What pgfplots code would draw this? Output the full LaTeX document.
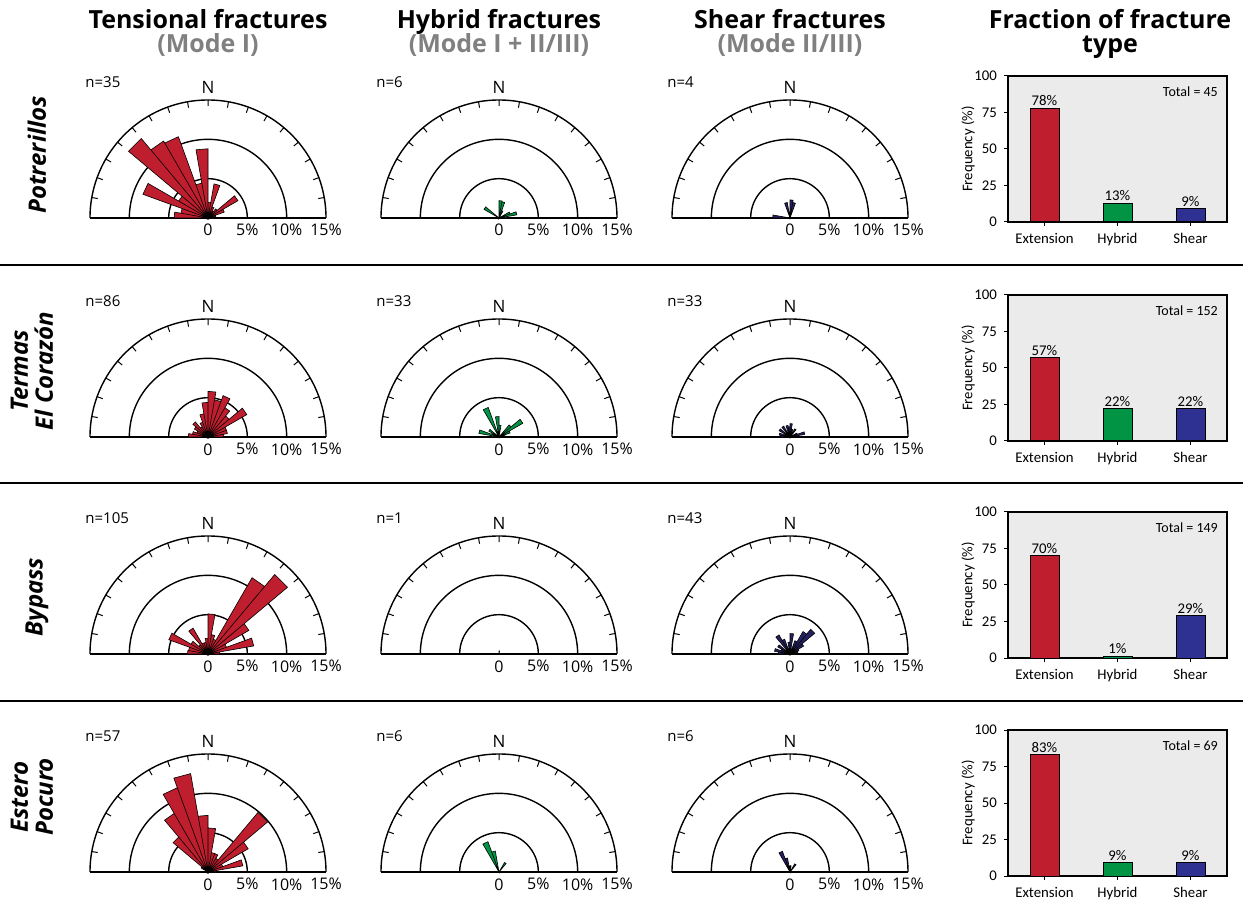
\documentclass[border=0pt]{standalone}
\usepackage{pgfplots}
\pgfplotsset{compat=1.18}
\usepgfplotslibrary{polar}
\usepackage{fontspec}
\setmainfont{Open Sans}
\newfontfamily\barfont{Carlito}
\definecolor{cred}{RGB}{190,30,45}
\definecolor{cgreen}{RGB}{0,148,68}
\definecolor{cblue}{RGB}{46,49,146}
\definecolor{rblue}{RGB}{38,34,98}
\definecolor{bgray}{RGB}{235,235,235}
\definecolor{tgray}{RGB}{128,128,128}
\newcommand\pctfont{\fontsize{8}{9}\selectfont}
\newcommand\bfnt{\barfont\fontsize{7.4}{8}\selectfont}
\pgfplotsset{
  rose/.style={
    anchor=origin, scale only axis, width=118pt, height=118pt,
    xmin=0, xmax=180, ymin=0, ymax=15,
    xtick={10,20,...,170},
    xticklabels={,,,,,,,,N,,,,,,,,},
    xticklabel style={font=\fontsize{8.5}{9}\selectfont, inner sep=1pt, yshift=5pt},
    ytick={5,10}, yticklabels={},
    ymajorgrids, xmajorgrids=false,
    major grid style={black, line width=0.7pt},
    axis line style={black, line width=0.7pt},
    tick align=outside, major tick length=3pt,
    xtick style={black, line width=0.5pt},
    ytick style={draw=none},
    clip=false,
  },
  fbar/.style={
    anchor=south west, scale only axis, width=109.5pt, height=73pt,
    xmin=-0.5, xmax=2.5, ymin=0, ymax=100,
    xtick={0,1,2}, xticklabels={Extension,Hybrid,Shear},
    ytick={0,25,50,75,100},
    tick align=outside, major tick length=2pt,
    xtick pos=bottom, ytick pos=left,
    tick style={black, line width=0.5pt},
    axis background/.style={fill=bgray},
    axis line style={black, line width=0.6pt},
    tick label style={font=\bfnt},
    /pgf/number format/assume math mode=true,
    ylabel={Frequency (\%)},
    ylabel style={font=\bfnt},
    ylabel shift=-7pt,
    point meta=y,
    every axis plot/.append style={ybar, bar width=14.5pt, bar shift=0pt, draw=black, line width=0.5pt},
    nodes near coords={\pgfmathprintnumber{\pgfplotspointmeta}\%},
    nodes near coords style={font=\bfnt, inner sep=1pt, text=black},
    clip=false,
  }
}
\newcommand\rose[4]{%
  \begin{polaraxis}[rose, at={(#1,#2)}]
  \addplot[fill=#3, draw=black, line width=0.3pt] coordinates {#4};
  \node[anchor=north, inner sep=0pt, yshift=-3pt, font=\pctfont] at (axis cs:0,0) {0};
  \node[anchor=north, inner sep=0pt, yshift=-3pt, font=\pctfont] at (axis cs:0,5) {5\%};
  \node[anchor=north, inner sep=0pt, yshift=-3pt, font=\pctfont] at (axis cs:0,10) {10\%};
  \node[anchor=north, inner sep=0pt, yshift=-3pt, font=\pctfont] at (axis cs:0,15) {15\%};
  \end{polaraxis}}
\newcommand\fbar[5]{%
  \begin{axis}[fbar, at={(504pt,#1)}]
  \addplot[fill=cred] coordinates {(0,#2)};
  \addplot[fill=cgreen] coordinates {(1,#3)};
  \addplot[fill=cblue] coordinates {(2,#4)};
  \node[anchor=north east, inner sep=0pt, font=\barfont\fontsize{7}{8}\selectfont] at (rel axis cs:0.96,0.93) {Total = #5};
  \end{axis}}
\begin{document}
\begin{tikzpicture}
\useasboundingbox (0,0) rectangle (621.5pt,458.5pt);
% column titles
\node[anchor=base, font=\fontsize{12.5}{14}\selectfont\bfseries] at (104pt,444pt) {Tensional fractures};
\node[anchor=base, font=\fontsize{12.5}{14}\selectfont\bfseries, text=tgray] at (104pt,432pt) {(Mode I)};
\node[anchor=base, font=\fontsize{12.5}{14}\selectfont\bfseries] at (249.5pt,444pt) {Hybrid fractures};
\node[anchor=base, font=\fontsize{12.5}{14}\selectfont\bfseries, text=tgray] at (249.5pt,432pt) {(Mode I + II/III)};
\node[anchor=base, font=\fontsize{12.5}{14}\selectfont\bfseries] at (395pt,444pt) {Shear fractures};
\node[anchor=base, font=\fontsize{12.5}{14}\selectfont\bfseries, text=tgray] at (395pt,432pt) {(Mode II/III)};
\node[anchor=base, font=\fontsize{12.5}{14}\selectfont\bfseries] at (555pt,444pt) {Fraction of fracture};
\node[anchor=base, font=\fontsize{12.5}{14}\selectfont\bfseries] at (555pt,432pt) {type};
% row labels
\node[rotate=90, font=\fontsize{12}{13}\selectfont\bfseries\itshape] at (18.5pt,381pt) {Potrerillos};
\node[rotate=90, align=center, font=\fontsize{12}{12.5}\selectfont\bfseries\itshape] at (16pt,273pt) {Termas\\El Corazón};
\node[rotate=90, font=\fontsize{12}{13}\selectfont\bfseries\itshape] at (18.5pt,160pt) {Bypass};
\node[rotate=90, align=center, font=\fontsize{12}{12.5}\selectfont\bfseries\itshape] at (16pt,60pt) {Estero\\Pocuro};
% separators
\draw[line width=1pt] (0pt,326pt) -- (621.5pt,326pt);
\draw[line width=1pt] (0pt,217pt) -- (621.5pt,217pt);
\draw[line width=1pt] (0pt,108pt) -- (621.5pt,108pt);
% n labels
\foreach \x/\y/\t in {42.5/417.5/35, 188/417.5/6, 333.5/417.5/4,
                      42.5/308/86, 188/308/33, 333.5/308/33,
                      42.5/199.5/105, 188/199.5/1, 333.5/199.5/43,
                      42.5/90.5/57, 188/90.5/6, 333.5/90.5/6}
  \node[anchor=west, inner sep=0pt, font=\fontsize{7.5}{9}\selectfont] at (\x pt,\y pt) {n=\t};
% ---- Row 1: Potrerillos
\rose{104pt}{349.5pt}{cred}{(0,0) (170,4.3) (180,4.3) (0,0) (160,3.5) (170,3.5) (0,0) (150,8.8) (160,8.8) (0,0) (140,4.3) (150,4.3) (0,0) (130,13.2) (140,13.2) (0,0) (120,11.3) (130,11.3) (0,0) (110,11.0) (120,11.0) (0,0) (100,4.5) (110,4.5) (0,0) (90,8.8) (100,8.8) (0,0) (80,2.0) (90,2.0) (0,0) (70,4.4) (80,4.4) (0,0) (60,1.5) (70,1.5) (0,0) (50,1.0) (60,1.0) (0,0) (40,1.5) (50,1.5) (0,0) (30,4.4) (40,4.4) (0,0) (20,2.2) (30,2.2) (0,0) (10,1.0) (20,1.0) (0,0) (0,0.5) (10,0.5) (0,0)}
\rose{249.5pt}{349.5pt}{cgreen}{(0,0) (140,2.2) (150,2.2) (0,0) (80,2.2) (90,2.2) (0,0) (70,2.1) (80,2.1) (0,0) (60,1.0) (70,1.0) (0,0) (20,1.5) (30,1.5) (0,0) (10,2.3) (20,2.3) (0,0) (0,1.0) (10,1.0) (0,0)}
\rose{395pt}{349.5pt}{rblue}{(0,0) (170,2.2) (180,2.2) (0,0) (100,2.0) (110,2.0) (0,0) (80,2.3) (90,2.3) (0,0) (70,2.0) (80,2.0) (0,0)}
\fbar{347.5pt}{78}{13}{9}{45}
% ---- Row 2: Termas El Corazon
\rose{104pt}{240pt}{cred}{(0,0) (170,2.5) (180,2.5) (0,0) (160,2.0) (170,2.0) (0,0) (150,1.5) (160,1.5) (0,0) (140,2.0) (150,2.0) (0,0) (130,2.5) (140,2.5) (0,0) (120,1.5) (130,1.5) (0,0) (110,2.0) (120,2.0) (0,0) (100,3.0) (110,3.0) (0,0) (90,4.4) (100,4.4) (0,0) (80,5.8) (90,5.8) (0,0) (70,4.8) (80,4.8) (0,0) (60,5.6) (70,5.6) (0,0) (50,4.3) (60,4.3) (0,0) (40,3.5) (50,3.5) (0,0) (30,5.7) (40,5.7) (0,0) (20,2.5) (30,2.5) (0,0) (10,2.5) (20,2.5) (0,0) (0,2.0) (10,2.0) (0,0)}
\rose{249.5pt}{240pt}{cgreen}{(0,0) (170,1.0) (180,1.0) (0,0) (160,2.6) (170,2.6) (0,0) (150,1.0) (160,1.0) (0,0) (140,1.5) (150,1.5) (0,0) (110,4.0) (120,4.0) (0,0) (90,2.6) (100,2.6) (0,0) (80,1.5) (90,1.5) (0,0) (40,2.0) (50,2.0) (0,0) (30,3.5) (40,3.5) (0,0) (20,1.5) (30,1.5) (0,0) (0,0.8) (10,0.8) (0,0)}
\rose{395pt}{240pt}{rblue}{(0,0) (170,1.2) (180,1.2) (0,0) (160,1.4) (170,1.4) (0,0) (140,1.6) (150,1.6) (0,0) (120,1.6) (130,1.6) (0,0) (100,1.5) (110,1.5) (0,0) (90,1.3) (100,1.3) (0,0) (80,1.7) (90,1.7) (0,0) (70,1.0) (80,1.0) (0,0) (50,1.2) (60,1.2) (0,0) (20,1.0) (30,1.0) (0,0) (10,1.9) (20,1.9) (0,0)}
\fbar{238pt}{57}{22}{22}{152}
% ---- Row 3: Bypass
\rose{104pt}{131.5pt}{cred}{(0,0) (170,2.6) (180,2.6) (0,0) (160,2.5) (170,2.5) (0,0) (150,5.3) (160,5.3) (0,0) (140,2.5) (150,2.5) (0,0) (130,1.5) (140,1.5) (0,0) (120,3.8) (130,3.8) (0,0) (110,1.5) (120,1.5) (0,0) (100,1.5) (110,1.5) (0,0) (90,2.0) (100,2.0) (0,0) (80,5.1) (90,5.1) (0,0) (70,2.5) (80,2.5) (0,0) (60,2.0) (70,2.0) (0,0) (50,11.2) (60,11.2) (0,0) (40,13.2) (50,13.2) (0,0) (30,6.0) (40,6.0) (0,0) (20,2.5) (30,2.5) (0,0) (10,5.9) (20,5.9) (0,0) (0,1.5) (10,1.5) (0,0)}
\rose{249.5pt}{131.5pt}{cgreen}{(0,0) (80,0.4) (90,0.4) (0,0)}
\rose{395pt}{131.5pt}{rblue}{(0,0) (170,1.5) (180,1.5) (0,0) (160,2.0) (170,2.0) (0,0) (150,1.2) (160,1.2) (0,0) (140,1.8) (150,1.8) (0,0) (120,2.8) (130,2.8) (0,0) (110,2.0) (120,2.0) (0,0) (90,1.5) (100,1.5) (0,0) (80,2.6) (90,2.6) (0,0) (60,1.8) (70,1.8) (0,0) (50,3.3) (60,3.3) (0,0) (40,4.1) (50,4.1) (0,0) (30,2.0) (40,2.0) (0,0) (20,1.2) (30,1.2) (0,0) (10,1.0) (20,1.0) (0,0)}
\fbar{129.5pt}{70}{1}{29}{149}
% ---- Row 4: Estero Pocuro
\rose{104pt}{22.5pt}{cred}{(0,0) (140,1.0) (150,1.0) (0,0) (130,5.8) (140,5.8) (0,0) (120,8.6) (130,8.6) (0,0) (110,11.4) (120,11.4) (0,0) (100,12.7) (110,12.7) (0,0) (90,7.2) (100,7.2) (0,0) (80,5.6) (90,5.6) (0,0) (70,2.5) (80,2.5) (0,0) (60,2.5) (70,2.5) (0,0) (50,2.0) (60,2.0) (0,0) (40,9.9) (50,9.9) (0,0) (30,5.9) (40,5.9) (0,0) (20,2.0) (30,2.0) (0,0) (10,4.5) (20,4.5) (0,0) (0,1.0) (10,1.0) (0,0)}
\rose{249.5pt}{22.5pt}{cgreen}{(0,0) (110,4.1) (120,4.1) (0,0) (100,2.7) (110,2.7) (0,0) (50,1.4) (60,1.4) (0,0)}
\rose{395pt}{22.5pt}{rblue}{(0,0) (110,2.8) (120,2.8) (0,0) (100,1.8) (110,1.8) (0,0) (80,0.8) (90,0.8) (0,0) (50,1.2) (60,1.2) (0,0)}
\fbar{20.5pt}{83}{9}{9}{69}
\end{tikzpicture}
\end{document}
